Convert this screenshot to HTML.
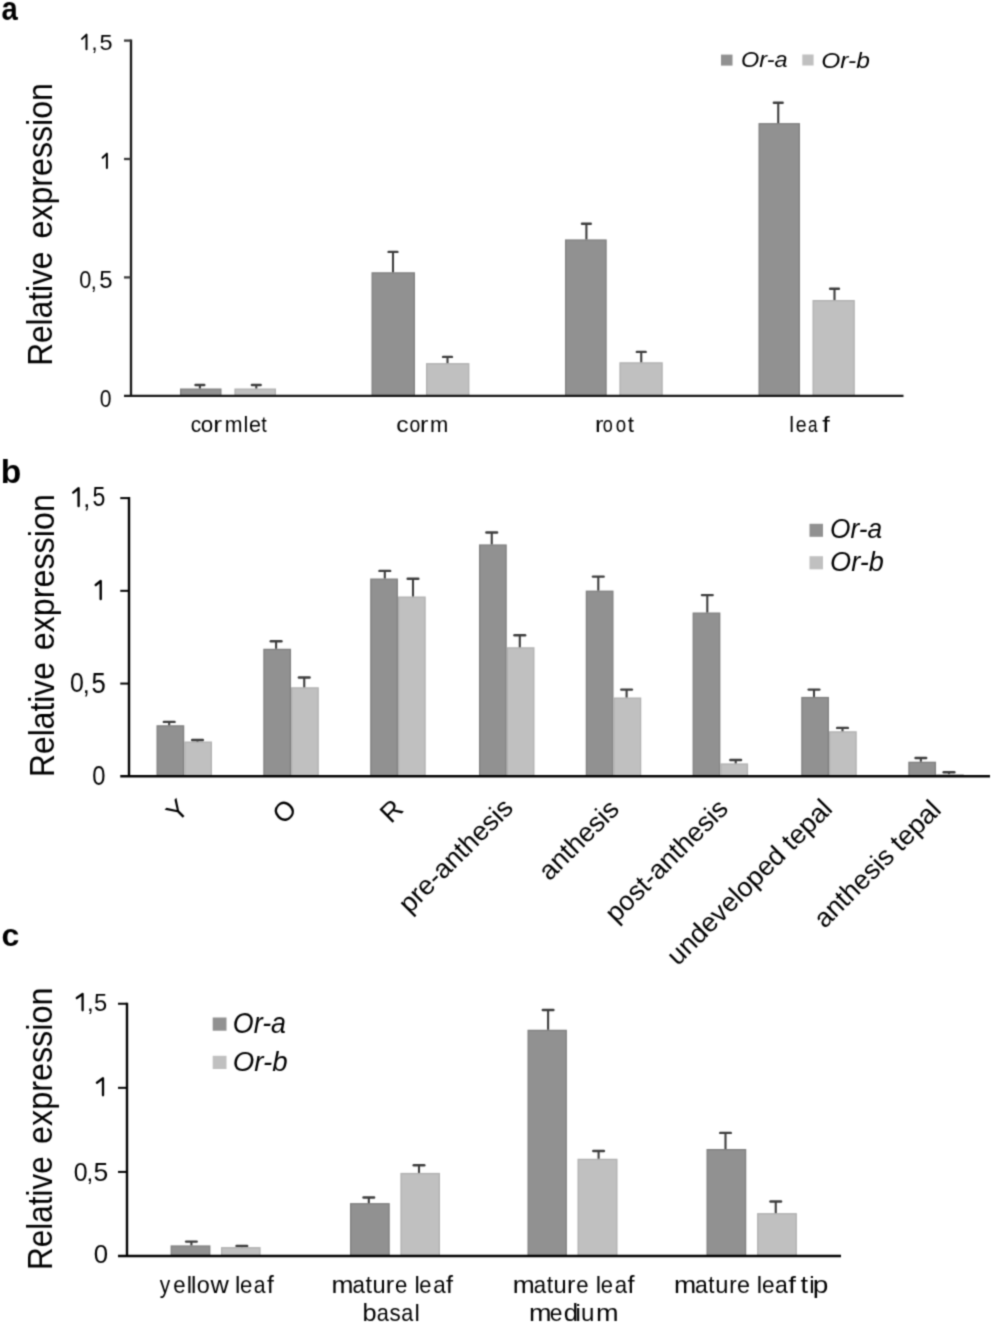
<!DOCTYPE html>
<html><head><meta charset="utf-8"><style>
html,body{margin:0;padding:0;background:#fff;width:992px;height:1323px;overflow:hidden}
svg{display:block;filter:grayscale(1)}
text{font-family:"Liberation Sans", sans-serif;fill:#000}
</style></head><body>
<svg width="992" height="1323" viewBox="0 0 992 1323">
<defs><filter id="soft" filterUnits="userSpaceOnUse" x="0" y="0" width="992" height="1323" color-interpolation-filters="sRGB"><feConvolveMatrix order="5" kernelMatrix="0.00003 0.00101 0.00331 0.00101 0.00003 0.00101 0.03529 0.11525 0.03529 0.00101 0.00331 0.11525 0.37636 0.11525 0.00331 0.00101 0.03529 0.11525 0.03529 0.00101 0.00003 0.00101 0.00331 0.00101 0.00003" divisor="1" edgeMode="duplicate"/></filter></defs>
<g filter="url(#soft)">
<rect width="992" height="1323" fill="#fff"/>
<rect x="180.65" y="389.15" width="40.20" height="6.65" fill="#919191" stroke="#7f7f7f" stroke-width="1.3"/>
<rect x="372.15" y="272.90" width="42.20" height="122.90" fill="#919191" stroke="#7f7f7f" stroke-width="1.3"/>
<rect x="565.65" y="240.05" width="40.40" height="155.75" fill="#919191" stroke="#7f7f7f" stroke-width="1.3"/>
<rect x="759.15" y="123.75" width="40.20" height="272.05" fill="#919191" stroke="#7f7f7f" stroke-width="1.3"/>
<rect x="235.05" y="389.15" width="40.30" height="6.65" fill="#c0c0c0" stroke="#b0b0b0" stroke-width="1.3"/>
<rect x="426.65" y="363.75" width="42.10" height="32.05" fill="#c0c0c0" stroke="#b0b0b0" stroke-width="1.3"/>
<rect x="620.05" y="362.90" width="42.05" height="32.90" fill="#c0c0c0" stroke="#b0b0b0" stroke-width="1.3"/>
<rect x="813.15" y="300.65" width="41.00" height="95.15" fill="#c0c0c0" stroke="#b0b0b0" stroke-width="1.3"/>
<line x1="199.90" y1="388.50" x2="199.90" y2="385.00" stroke="#3c3c3c" stroke-width="2.1"/>
<line x1="195.50" y1="385.00" x2="204.30" y2="385.00" stroke="#3c3c3c" stroke-width="2.4" stroke-linecap="round"/>
<line x1="393.00" y1="272.25" x2="393.00" y2="251.90" stroke="#3c3c3c" stroke-width="2.1"/>
<line x1="388.60" y1="251.90" x2="397.40" y2="251.90" stroke="#3c3c3c" stroke-width="2.4" stroke-linecap="round"/>
<line x1="586.40" y1="239.40" x2="586.40" y2="223.75" stroke="#3c3c3c" stroke-width="2.1"/>
<line x1="582.00" y1="223.75" x2="590.80" y2="223.75" stroke="#3c3c3c" stroke-width="2.4" stroke-linecap="round"/>
<line x1="778.25" y1="123.10" x2="778.25" y2="102.75" stroke="#3c3c3c" stroke-width="2.1"/>
<line x1="773.85" y1="102.75" x2="782.65" y2="102.75" stroke="#3c3c3c" stroke-width="2.4" stroke-linecap="round"/>
<line x1="256.30" y1="388.50" x2="256.30" y2="385.00" stroke="#3c3c3c" stroke-width="2.1"/>
<line x1="251.90" y1="385.00" x2="260.70" y2="385.00" stroke="#3c3c3c" stroke-width="2.4" stroke-linecap="round"/>
<line x1="447.50" y1="363.10" x2="447.50" y2="356.90" stroke="#3c3c3c" stroke-width="2.1"/>
<line x1="443.10" y1="356.90" x2="451.90" y2="356.90" stroke="#3c3c3c" stroke-width="2.4" stroke-linecap="round"/>
<line x1="641.25" y1="362.25" x2="641.25" y2="351.90" stroke="#3c3c3c" stroke-width="2.1"/>
<line x1="636.85" y1="351.90" x2="645.65" y2="351.90" stroke="#3c3c3c" stroke-width="2.4" stroke-linecap="round"/>
<line x1="834.50" y1="300.00" x2="834.50" y2="288.75" stroke="#3c3c3c" stroke-width="2.1"/>
<line x1="830.10" y1="288.75" x2="838.90" y2="288.75" stroke="#3c3c3c" stroke-width="2.4" stroke-linecap="round"/>
<line x1="131.00" y1="39.60" x2="131.00" y2="395.80" stroke="#161616" stroke-width="2.3"/>
<line x1="124.00" y1="395.80" x2="903.50" y2="395.80" stroke="#161616" stroke-width="2.3"/>
<line x1="124.00" y1="277.40" x2="131.00" y2="277.40" stroke="#3a3a3a" stroke-width="2.3"/>
<line x1="124.00" y1="159.00" x2="131.00" y2="159.00" stroke="#3a3a3a" stroke-width="2.3"/>
<line x1="124.00" y1="40.60" x2="131.00" y2="40.60" stroke="#3a3a3a" stroke-width="2.3"/>
<rect x="157.15" y="725.90" width="26.45" height="50.40" fill="#919191" stroke="#7f7f7f" stroke-width="1.3"/>
<rect x="263.95" y="649.40" width="26.45" height="126.90" fill="#919191" stroke="#7f7f7f" stroke-width="1.3"/>
<rect x="370.85" y="579.15" width="26.45" height="197.15" fill="#919191" stroke="#7f7f7f" stroke-width="1.3"/>
<rect x="479.65" y="545.05" width="26.45" height="231.25" fill="#919191" stroke="#7f7f7f" stroke-width="1.3"/>
<rect x="586.40" y="591.25" width="26.45" height="185.05" fill="#919191" stroke="#7f7f7f" stroke-width="1.3"/>
<rect x="693.25" y="613.15" width="26.45" height="163.15" fill="#919191" stroke="#7f7f7f" stroke-width="1.3"/>
<rect x="801.90" y="697.55" width="26.45" height="78.75" fill="#919191" stroke="#7f7f7f" stroke-width="1.3"/>
<rect x="908.95" y="762.35" width="26.45" height="13.95" fill="#919191" stroke="#7f7f7f" stroke-width="1.3"/>
<rect x="184.90" y="742.15" width="26.45" height="34.15" fill="#c0c0c0" stroke="#b0b0b0" stroke-width="1.3"/>
<rect x="291.70" y="687.90" width="26.45" height="88.40" fill="#c0c0c0" stroke="#b0b0b0" stroke-width="1.3"/>
<rect x="398.60" y="597.15" width="26.45" height="179.15" fill="#c0c0c0" stroke="#b0b0b0" stroke-width="1.3"/>
<rect x="507.40" y="647.90" width="26.45" height="128.40" fill="#c0c0c0" stroke="#b0b0b0" stroke-width="1.3"/>
<rect x="614.15" y="698.15" width="26.45" height="78.15" fill="#c0c0c0" stroke="#b0b0b0" stroke-width="1.3"/>
<rect x="721.00" y="764.05" width="26.45" height="12.25" fill="#c0c0c0" stroke="#b0b0b0" stroke-width="1.3"/>
<rect x="829.65" y="731.90" width="26.45" height="44.40" fill="#c0c0c0" stroke="#b0b0b0" stroke-width="1.3"/>
<rect x="936.70" y="774.85" width="26.45" height="1.45" fill="#c0c0c0" stroke="#b0b0b0" stroke-width="1.3"/>
<line x1="169.20" y1="725.25" x2="169.20" y2="721.90" stroke="#3c3c3c" stroke-width="2.1"/>
<line x1="163.85" y1="721.90" x2="174.55" y2="721.90" stroke="#3c3c3c" stroke-width="2.4" stroke-linecap="round"/>
<line x1="276.10" y1="648.75" x2="276.10" y2="641.25" stroke="#3c3c3c" stroke-width="2.1"/>
<line x1="270.75" y1="641.25" x2="281.45" y2="641.25" stroke="#3c3c3c" stroke-width="2.4" stroke-linecap="round"/>
<line x1="384.80" y1="578.50" x2="384.80" y2="570.90" stroke="#3c3c3c" stroke-width="2.1"/>
<line x1="379.45" y1="570.90" x2="390.15" y2="570.90" stroke="#3c3c3c" stroke-width="2.4" stroke-linecap="round"/>
<line x1="491.75" y1="544.40" x2="491.75" y2="532.50" stroke="#3c3c3c" stroke-width="2.1"/>
<line x1="486.40" y1="532.50" x2="497.10" y2="532.50" stroke="#3c3c3c" stroke-width="2.4" stroke-linecap="round"/>
<line x1="598.30" y1="590.60" x2="598.30" y2="576.60" stroke="#3c3c3c" stroke-width="2.1"/>
<line x1="592.95" y1="576.60" x2="603.65" y2="576.60" stroke="#3c3c3c" stroke-width="2.4" stroke-linecap="round"/>
<line x1="707.30" y1="612.50" x2="707.30" y2="595.10" stroke="#3c3c3c" stroke-width="2.1"/>
<line x1="701.95" y1="595.10" x2="712.65" y2="595.10" stroke="#3c3c3c" stroke-width="2.4" stroke-linecap="round"/>
<line x1="814.00" y1="696.90" x2="814.00" y2="689.60" stroke="#3c3c3c" stroke-width="2.1"/>
<line x1="808.65" y1="689.60" x2="819.35" y2="689.60" stroke="#3c3c3c" stroke-width="2.4" stroke-linecap="round"/>
<line x1="920.85" y1="761.70" x2="920.85" y2="758.00" stroke="#3c3c3c" stroke-width="2.1"/>
<line x1="915.50" y1="758.00" x2="926.20" y2="758.00" stroke="#3c3c3c" stroke-width="2.4" stroke-linecap="round"/>
<line x1="197.50" y1="741.50" x2="197.50" y2="740.00" stroke="#3c3c3c" stroke-width="2.1"/>
<line x1="192.15" y1="740.00" x2="202.85" y2="740.00" stroke="#3c3c3c" stroke-width="2.4" stroke-linecap="round"/>
<line x1="304.25" y1="687.25" x2="304.25" y2="677.50" stroke="#3c3c3c" stroke-width="2.1"/>
<line x1="298.90" y1="677.50" x2="309.60" y2="677.50" stroke="#3c3c3c" stroke-width="2.4" stroke-linecap="round"/>
<line x1="413.00" y1="596.50" x2="413.00" y2="578.75" stroke="#3c3c3c" stroke-width="2.1"/>
<line x1="407.65" y1="578.75" x2="418.35" y2="578.75" stroke="#3c3c3c" stroke-width="2.4" stroke-linecap="round"/>
<line x1="519.80" y1="647.25" x2="519.80" y2="635.25" stroke="#3c3c3c" stroke-width="2.1"/>
<line x1="514.45" y1="635.25" x2="525.15" y2="635.25" stroke="#3c3c3c" stroke-width="2.4" stroke-linecap="round"/>
<line x1="626.60" y1="697.50" x2="626.60" y2="689.60" stroke="#3c3c3c" stroke-width="2.1"/>
<line x1="621.25" y1="689.60" x2="631.95" y2="689.60" stroke="#3c3c3c" stroke-width="2.4" stroke-linecap="round"/>
<line x1="735.70" y1="763.40" x2="735.70" y2="760.00" stroke="#3c3c3c" stroke-width="2.1"/>
<line x1="730.35" y1="760.00" x2="741.05" y2="760.00" stroke="#3c3c3c" stroke-width="2.4" stroke-linecap="round"/>
<line x1="842.50" y1="731.25" x2="842.50" y2="727.90" stroke="#3c3c3c" stroke-width="2.1"/>
<line x1="837.15" y1="727.90" x2="847.85" y2="727.90" stroke="#3c3c3c" stroke-width="2.4" stroke-linecap="round"/>
<line x1="949.00" y1="774.20" x2="949.00" y2="772.20" stroke="#3c3c3c" stroke-width="2.1"/>
<line x1="943.65" y1="772.20" x2="954.35" y2="772.20" stroke="#3c3c3c" stroke-width="2.4" stroke-linecap="round"/>
<line x1="129.00" y1="497.10" x2="129.00" y2="776.30" stroke="#000" stroke-width="2.4"/>
<line x1="120.25" y1="776.30" x2="990.00" y2="776.30" stroke="#000" stroke-width="2.4"/>
<line x1="120.25" y1="683.57" x2="129.00" y2="683.57" stroke="#000" stroke-width="2"/>
<line x1="120.25" y1="590.83" x2="129.00" y2="590.83" stroke="#000" stroke-width="2"/>
<line x1="120.25" y1="498.10" x2="129.00" y2="498.10" stroke="#000" stroke-width="2"/>
<rect x="171.25" y="1246.05" width="38.50" height="9.95" fill="#919191" stroke="#7f7f7f" stroke-width="1.3"/>
<rect x="350.65" y="1203.75" width="38.45" height="52.25" fill="#919191" stroke="#7f7f7f" stroke-width="1.3"/>
<rect x="528.15" y="1030.40" width="38.10" height="225.60" fill="#919191" stroke="#7f7f7f" stroke-width="1.3"/>
<rect x="707.15" y="1149.65" width="38.45" height="106.35" fill="#919191" stroke="#7f7f7f" stroke-width="1.3"/>
<rect x="221.65" y="1247.75" width="38.30" height="8.25" fill="#c0c0c0" stroke="#b0b0b0" stroke-width="1.3"/>
<rect x="401.05" y="1173.55" width="38.30" height="82.45" fill="#c0c0c0" stroke="#b0b0b0" stroke-width="1.3"/>
<rect x="578.15" y="1159.40" width="38.70" height="96.60" fill="#c0c0c0" stroke="#b0b0b0" stroke-width="1.3"/>
<rect x="757.75" y="1213.75" width="38.50" height="42.25" fill="#c0c0c0" stroke="#b0b0b0" stroke-width="1.3"/>
<line x1="191.40" y1="1245.40" x2="191.40" y2="1241.60" stroke="#3c3c3c" stroke-width="2.1"/>
<line x1="186.10" y1="1241.60" x2="196.70" y2="1241.60" stroke="#3c3c3c" stroke-width="2.4" stroke-linecap="round"/>
<line x1="368.80" y1="1203.10" x2="368.80" y2="1197.50" stroke="#3c3c3c" stroke-width="2.1"/>
<line x1="363.50" y1="1197.50" x2="374.10" y2="1197.50" stroke="#3c3c3c" stroke-width="2.4" stroke-linecap="round"/>
<line x1="548.10" y1="1029.75" x2="548.10" y2="1010.00" stroke="#3c3c3c" stroke-width="2.1"/>
<line x1="542.80" y1="1010.00" x2="553.40" y2="1010.00" stroke="#3c3c3c" stroke-width="2.4" stroke-linecap="round"/>
<line x1="725.50" y1="1149.00" x2="725.50" y2="1132.90" stroke="#3c3c3c" stroke-width="2.1"/>
<line x1="720.20" y1="1132.90" x2="730.80" y2="1132.90" stroke="#3c3c3c" stroke-width="2.4" stroke-linecap="round"/>
<line x1="241.85" y1="1247.10" x2="241.85" y2="1245.90" stroke="#3c3c3c" stroke-width="2.1"/>
<line x1="236.55" y1="1245.90" x2="247.15" y2="1245.90" stroke="#3c3c3c" stroke-width="2.4" stroke-linecap="round"/>
<line x1="419.00" y1="1172.90" x2="419.00" y2="1165.25" stroke="#3c3c3c" stroke-width="2.1"/>
<line x1="413.70" y1="1165.25" x2="424.30" y2="1165.25" stroke="#3c3c3c" stroke-width="2.4" stroke-linecap="round"/>
<line x1="598.60" y1="1158.75" x2="598.60" y2="1151.00" stroke="#3c3c3c" stroke-width="2.1"/>
<line x1="593.30" y1="1151.00" x2="603.90" y2="1151.00" stroke="#3c3c3c" stroke-width="2.4" stroke-linecap="round"/>
<line x1="775.75" y1="1213.10" x2="775.75" y2="1201.50" stroke="#3c3c3c" stroke-width="2.1"/>
<line x1="770.45" y1="1201.50" x2="781.05" y2="1201.50" stroke="#3c3c3c" stroke-width="2.4" stroke-linecap="round"/>
<line x1="127.00" y1="1002.75" x2="127.00" y2="1256.00" stroke="#000" stroke-width="2.4"/>
<line x1="118.00" y1="1256.00" x2="841.00" y2="1256.00" stroke="#000" stroke-width="2.4"/>
<line x1="118.00" y1="1171.92" x2="127.00" y2="1171.92" stroke="#000" stroke-width="2"/>
<line x1="118.00" y1="1087.83" x2="127.00" y2="1087.83" stroke="#000" stroke-width="2"/>
<line x1="118.00" y1="1003.75" x2="127.00" y2="1003.75" stroke="#000" stroke-width="2"/>
<rect x="721" y="54.6" width="11.5" height="11" fill="#919191"/>
<rect x="802.3" y="54.5" width="11.3" height="11" fill="#c0c0c0"/>
<rect x="809.5" y="523.8" width="13.5" height="13" fill="#919191"/>
<rect x="809.5" y="556.2" width="13.5" height="13.1" fill="#c0c0c0"/>
<rect x="212.7" y="1017.5" width="13.8" height="13.2" fill="#919191"/>
<rect x="212.7" y="1055.8" width="13.8" height="13.2" fill="#c0c0c0"/>
<path d="M82.00,38.90 L86.50,34.60 L86.50,49.20" fill="none" stroke="#000" stroke-width="2.0" stroke-linecap="round" stroke-linejoin="round"/>
<path d="M102.60,157.80 L106.90,153.60 L106.90,168.00" fill="none" stroke="#000" stroke-width="2.0" stroke-linecap="round" stroke-linejoin="round"/>
<path d="M73.20,492.60 L78.60,488.30 L78.60,506.00" fill="none" stroke="#000" stroke-width="2.4" stroke-linecap="round" stroke-linejoin="round"/>
<path d="M95.70,585.00 L100.70,581.00 L100.70,599.00" fill="none" stroke="#000" stroke-width="2.4" stroke-linecap="round" stroke-linejoin="round"/>
<path d="M76.80,998.00 L82.60,994.00 L82.60,1010.30" fill="none" stroke="#000" stroke-width="2.3" stroke-linecap="round" stroke-linejoin="round"/>
<path d="M96.90,1082.70 L103.00,1078.30 L103.00,1095.30" fill="none" stroke="#000" stroke-width="2.3" stroke-linecap="round" stroke-linejoin="round"/>
<text id="La" transform="translate(1.39,19.90) scale(0.8857,1.0178)" font-size="33.00" text-anchor="start" font-weight="bold">a</text>
<text id="Lb" transform="translate(0.75,483.05) scale(1.0176,0.9848)" font-size="33.00" text-anchor="start" font-weight="bold">b</text>
<text id="Lc" transform="translate(1.53,945.57) scale(0.9708,0.9692)" font-size="33.00" text-anchor="start" font-weight="bold">c</text>
<text id="a0_0" transform="translate(99.78,406.81) scale(0.9824,1.0726)" font-size="21.50" text-anchor="start">0</text>
<text id="a05_0" transform="translate(79.33,288.08) scale(1.0114,1.1428)" font-size="21.50" text-anchor="start">0</text>
<text id="a05_c" transform="translate(90.83,288.75)" font-size="21.50" text-anchor="start">,</text>
<text id="a05_5" transform="translate(99.28,287.99) scale(1.1138,1.1030)" font-size="21.50" text-anchor="start">5</text>
<text id="a15_c" transform="translate(91.46,50.24)" font-size="21.50" text-anchor="start">,</text>
<text id="a15_5" transform="translate(99.56,49.85) scale(1.0933,1.0188)" font-size="21.50" text-anchor="start">5</text>
<text id="b0_0" transform="translate(92.21,785.49) scale(0.9506,1.1221)" font-size="25.00" text-anchor="start">0</text>
<text id="b05_0" transform="translate(69.91,692.30) scale(0.9960,1.1354)" font-size="25.00" text-anchor="start">0</text>
<text id="b05_c" transform="translate(82.73,693.16)" font-size="25.00" text-anchor="start">,</text>
<text id="b05_5" transform="translate(91.55,693.05) scale(1.0278,1.1883)" font-size="25.00" text-anchor="start">5</text>
<text id="b15_c" transform="translate(83.31,507.20)" font-size="25.00" text-anchor="start">,</text>
<text id="b15_5" transform="translate(92.38,506.15) scale(0.9255,1.1342)" font-size="25.00" text-anchor="start">5</text>
<text id="c0_0" transform="translate(93.84,1262.55) scale(1.0743,1.0733)" font-size="24.00" text-anchor="start">0</text>
<text id="c05_0" transform="translate(73.78,1180.95) scale(1.0388,1.0966)" font-size="24.00" text-anchor="start">0</text>
<text id="c05_c" transform="translate(86.48,1180.91)" font-size="24.00" text-anchor="start">,</text>
<text id="c05_5" transform="translate(93.62,1180.92) scale(1.1075,1.0698)" font-size="24.00" text-anchor="start">5</text>
<text id="c15_c" transform="translate(86.90,1011.31)" font-size="24.00" text-anchor="start">,</text>
<text id="c15_5" transform="translate(94.08,1010.87) scale(0.9878,1.0096)" font-size="24.00" text-anchor="start">5</text>
<text id="Ya" transform="translate(52.48,308.70) rotate(-90) scale(0.9872,1.0900)" font-size="32.00" text-anchor="middle">Relative</text>
<text id="Yb" transform="translate(54.05,719.55) rotate(-90) scale(0.9922,1.0900)" font-size="32.00" text-anchor="middle">Relative</text>
<text id="Yc" transform="translate(51.88,1213.07) rotate(-90) scale(0.9832,1.0900)" font-size="32.00" text-anchor="middle">Relative</text>
<text id="Ya2" transform="translate(52.48,160.81) rotate(-90) scale(1.0056,1.0900)" font-size="32.00" text-anchor="middle">expression</text>
<text id="Yb2" transform="translate(54.05,572.25) rotate(-90) scale(1.0099,1.0900)" font-size="32.00" text-anchor="middle">expression</text>
<text id="Yc2" transform="translate(51.88,1065.75) rotate(-90) scale(1.0107,1.0900)" font-size="32.00" text-anchor="middle">expression</text>
<text id="xa0_0" transform="translate(190.72,432.20) scale(0.9733,1.0000)" font-size="21.50" text-anchor="start">c</text>
<text id="xa0_1" transform="translate(200.64,432.20) scale(1.0428,1.0000)" font-size="21.50" text-anchor="start">o</text>
<text id="xa0_2" transform="translate(213.24,432.20) scale(1.2320,1.0000)" font-size="21.50" text-anchor="start">r</text>
<text id="xa0_3" transform="translate(224.67,432.20) scale(0.9923,1.0000)" font-size="21.50" text-anchor="start">m</text>
<text id="xa0_4" transform="translate(243.54,432.20)" font-size="21.50" text-anchor="start">l</text>
<text id="xa0_5" transform="translate(249.00,432.20) scale(1.0006,1.0000)" font-size="21.50" text-anchor="start">e</text>
<text id="xa0_6" transform="translate(261.24,432.20) scale(0.9144,1.0000)" font-size="21.50" text-anchor="start">t</text>
<text id="xa1_0" transform="translate(396.19,432.20) scale(1.1466,1.0000)" font-size="21.50" text-anchor="start">c</text>
<text id="xa1_1" transform="translate(409.48,432.20) scale(0.9000,1.0000)" font-size="21.50" text-anchor="start">o</text>
<text id="xa1_2" transform="translate(420.00,432.20) scale(1.1627,1.0000)" font-size="21.50" text-anchor="start">r</text>
<text id="xa1_3" transform="translate(430.04,432.20) scale(1.0202,1.0000)" font-size="21.50" text-anchor="start">m</text>
<text id="xa2_0" transform="translate(595.10,432.20) scale(1.1771,1.0000)" font-size="21.50" text-anchor="start">r</text>
<text id="xa2_1" transform="translate(602.64,432.20) scale(0.8416,1.0000)" font-size="21.50" text-anchor="start">o</text>
<text id="xa2_2" transform="translate(615.80,432.20) scale(0.8693,1.0000)" font-size="21.50" text-anchor="start">o</text>
<text id="xa2_3" transform="translate(627.69,432.20) scale(1.0427,1.0000)" font-size="21.50" text-anchor="start">t</text>
<text id="xa3_0" transform="translate(789.34,432.20)" font-size="21.50" text-anchor="start">l</text>
<text id="xa3_1" transform="translate(795.77,432.20) scale(0.9064,1.0000)" font-size="21.50" text-anchor="start">e</text>
<text id="xa3_2" transform="translate(808.02,432.20) scale(0.7976,1.0000)" font-size="21.50" text-anchor="start">a</text>
<text id="xa3_3" transform="translate(822.33,432.20) scale(1.2613,1.0000)" font-size="21.50" text-anchor="start">f</text>
<text id="lga" transform="translate(741.12,67.20) scale(1.0912,1.0500)" font-size="21.50" text-anchor="start" font-style="italic">Or-a</text>
<text id="lgb" transform="translate(821.30,68.17) scale(1.1394,0.9900)" font-size="21.50" text-anchor="start" font-style="italic">Or-b</text>
<text id="lba" transform="translate(830.11,537.84) scale(0.9745,1.0500)" font-size="27.00" text-anchor="start" font-style="italic">Or-a</text>
<text id="lbb" transform="translate(830.05,571.10) scale(1.0049,1.0000)" font-size="27.00" text-anchor="start" font-style="italic">Or-b</text>
<text id="lca" transform="translate(232.85,1032.80) scale(0.9934,1.0700)" font-size="27.00" text-anchor="start" font-style="italic">Or-a</text>
<text id="lcb" transform="translate(232.78,1071.10) scale(1.0253,1.0000)" font-size="27.00" text-anchor="start" font-style="italic">Or-b</text>
<text id="xb0" transform="translate(176.52,796.82) rotate(-45)" font-size="27.00" text-anchor="end" dominant-baseline="hanging">Y</text>
<text id="xb1" transform="translate(284.74,796.87) rotate(-45)" font-size="27.00" text-anchor="end" dominant-baseline="hanging">O</text>
<text id="xb2" transform="translate(391.31,796.98) rotate(-45)" font-size="27.00" text-anchor="end" dominant-baseline="hanging">R</text>
<text id="xb3" transform="translate(500.88,795.75) rotate(-45)" font-size="27.00" text-anchor="end" dominant-baseline="hanging">pre-anthesis</text>
<text id="xb4" transform="translate(606.92,797.03) rotate(-45)" font-size="27.00" text-anchor="end" dominant-baseline="hanging">anthesis</text>
<text id="xb5" transform="translate(715.91,796.65) rotate(-45)" font-size="27.00" text-anchor="end" dominant-baseline="hanging">post-anthesis</text>
<text id="xb6" transform="translate(820.25,796.74) rotate(-45)" font-size="27.00" text-anchor="end" dominant-baseline="hanging">undeveloped tepal</text>
<text id="xb7" transform="translate(928.88,797.75) rotate(-45)" font-size="27.00" text-anchor="end" dominant-baseline="hanging">anthesis tepal</text>
<text id="xc0_0" transform="translate(159.84,1292.60) scale(0.8704,1.0000)" font-size="24.00" text-anchor="start">y</text>
<text id="xc0_1" transform="translate(173.18,1292.60) scale(0.9242,1.0000)" font-size="24.00" text-anchor="start">e</text>
<text id="xc0_2" transform="translate(186.69,1292.60)" font-size="24.00" text-anchor="start">l</text>
<text id="xc0_3" transform="translate(191.00,1292.60)" font-size="24.00" text-anchor="start">l</text>
<text id="xc0_4" transform="translate(196.83,1292.60) scale(0.9770,1.0000)" font-size="24.00" text-anchor="start">o</text>
<text id="xc0_5" transform="translate(210.56,1292.60) scale(1.0576,1.0000)" font-size="24.00" text-anchor="start">w</text>
<text id="xc0_6" transform="translate(235.00,1292.60)" font-size="24.00" text-anchor="start">l</text>
<text id="xc0_7" transform="translate(240.02,1292.60) scale(0.9249,1.0000)" font-size="24.00" text-anchor="start">e</text>
<text id="xc0_8" transform="translate(253.80,1292.60) scale(0.8818,1.0000)" font-size="24.00" text-anchor="start">a</text>
<text id="xc0_9" transform="translate(267.02,1292.60) scale(1.0268,1.0000)" font-size="24.00" text-anchor="start">f</text>
<text id="xc1_0" transform="translate(331.45,1292.60) scale(1.0992,1.0000)" font-size="24.00" text-anchor="start">m</text>
<text id="xc1_1" transform="translate(352.42,1292.60) scale(0.9338,1.0000)" font-size="24.00" text-anchor="start">a</text>
<text id="xc1_2" transform="translate(365.39,1292.60) scale(0.9698,1.0000)" font-size="24.00" text-anchor="start">t</text>
<text id="xc1_3" transform="translate(372.48,1292.60) scale(0.9868,1.0000)" font-size="24.00" text-anchor="start">u</text>
<text id="xc1_4" transform="translate(385.84,1292.60) scale(1.0595,1.0000)" font-size="24.00" text-anchor="start">r</text>
<text id="xc1_5" transform="translate(394.92,1292.60) scale(0.9249,1.0000)" font-size="24.00" text-anchor="start">e</text>
<text id="xc1_6" transform="translate(414.50,1292.60)" font-size="24.00" text-anchor="start">l</text>
<text id="xc1_7" transform="translate(419.28,1292.60) scale(0.9141,1.0000)" font-size="24.00" text-anchor="start">e</text>
<text id="xc1_8" transform="translate(433.26,1292.60) scale(0.9332,1.0000)" font-size="24.00" text-anchor="start">a</text>
<text id="xc1_9" transform="translate(445.99,1292.60) scale(1.0558,1.0000)" font-size="24.00" text-anchor="start">f</text>
<text id="xc2_0" transform="translate(362.53,1320.50) scale(1.0547,1.0000)" font-size="24.00" text-anchor="start">b</text>
<text id="xc2_1" transform="translate(376.82,1320.50) scale(0.9073,1.0000)" font-size="24.00" text-anchor="start">a</text>
<text id="xc2_2" transform="translate(389.40,1320.50) scale(0.9357,1.0000)" font-size="24.00" text-anchor="start">s</text>
<text id="xc2_3" transform="translate(401.20,1320.50) scale(0.8983,1.0000)" font-size="24.00" text-anchor="start">a</text>
<text id="xc2_4" transform="translate(414.55,1320.50)" font-size="24.00" text-anchor="start">l</text>
<text id="xc3_0" transform="translate(512.82,1292.60) scale(1.0981,1.0000)" font-size="24.00" text-anchor="start">m</text>
<text id="xc3_1" transform="translate(533.83,1292.60) scale(0.9264,1.0000)" font-size="24.00" text-anchor="start">a</text>
<text id="xc3_2" transform="translate(546.78,1292.60) scale(0.9507,1.0000)" font-size="24.00" text-anchor="start">t</text>
<text id="xc3_3" transform="translate(553.60,1292.60) scale(0.9873,1.0000)" font-size="24.00" text-anchor="start">u</text>
<text id="xc3_4" transform="translate(567.04,1292.60) scale(1.0536,1.0000)" font-size="24.00" text-anchor="start">r</text>
<text id="xc3_5" transform="translate(576.30,1292.60) scale(0.9223,1.0000)" font-size="24.00" text-anchor="start">e</text>
<text id="xc3_6" transform="translate(595.65,1292.60)" font-size="24.00" text-anchor="start">l</text>
<text id="xc3_7" transform="translate(600.74,1292.60) scale(0.9136,1.0000)" font-size="24.00" text-anchor="start">e</text>
<text id="xc3_8" transform="translate(614.71,1292.60) scale(0.9254,1.0000)" font-size="24.00" text-anchor="start">a</text>
<text id="xc3_9" transform="translate(627.40,1292.60) scale(1.0548,1.0000)" font-size="24.00" text-anchor="start">f</text>
<text id="xc4_0" transform="translate(528.96,1320.50) scale(1.1273,1.0000)" font-size="24.00" text-anchor="start">m</text>
<text id="xc4_1" transform="translate(549.82,1320.50) scale(0.9489,1.0000)" font-size="24.00" text-anchor="start">e</text>
<text id="xc4_2" transform="translate(563.69,1320.50) scale(1.0798,1.0000)" font-size="24.00" text-anchor="start">d</text>
<text id="xc4_3" transform="translate(575.54,1320.50)" font-size="24.00" text-anchor="start">i</text>
<text id="xc4_4" transform="translate(580.91,1320.50) scale(1.0050,1.0000)" font-size="24.00" text-anchor="start">u</text>
<text id="xc4_5" transform="translate(595.90,1320.50) scale(1.1280,1.0000)" font-size="24.00" text-anchor="start">m</text>
<text id="xc5_0" transform="translate(674.07,1292.60) scale(1.1111,1.0000)" font-size="24.00" text-anchor="start">m</text>
<text id="xc5_1" transform="translate(695.09,1292.60) scale(0.9591,1.0000)" font-size="24.00" text-anchor="start">a</text>
<text id="xc5_2" transform="translate(708.29,1292.60) scale(0.9302,1.0000)" font-size="24.00" text-anchor="start">t</text>
<text id="xc5_3" transform="translate(715.31,1292.60) scale(0.9868,1.0000)" font-size="24.00" text-anchor="start">u</text>
<text id="xc5_4" transform="translate(729.34,1292.60) scale(0.9382,1.0000)" font-size="24.00" text-anchor="start">r</text>
<text id="xc5_5" transform="translate(737.07,1292.60) scale(0.9743,1.0000)" font-size="24.00" text-anchor="start">e</text>
<text id="xc5_6" transform="translate(756.81,1292.60)" font-size="24.00" text-anchor="start">l</text>
<text id="xc5_7" transform="translate(761.88,1292.60) scale(0.9413,1.0000)" font-size="24.00" text-anchor="start">e</text>
<text id="xc5_8" transform="translate(775.09,1292.60) scale(0.9591,1.0000)" font-size="24.00" text-anchor="start">a</text>
<text id="xc5_9" transform="translate(788.33,1292.60) scale(1.1507,1.0000)" font-size="24.00" text-anchor="start">f</text>
<text id="xc5_10" transform="translate(800.47,1292.60) scale(1.1321,1.0000)" font-size="24.00" text-anchor="start">t</text>
<text id="xc5_11" transform="translate(809.21,1292.60)" font-size="24.00" text-anchor="start">i</text>
<text id="xc5_12" transform="translate(812.70,1292.60) scale(1.1692,1.0000)" font-size="24.00" text-anchor="start">p</text>
</g>
</svg>
</body></html>
